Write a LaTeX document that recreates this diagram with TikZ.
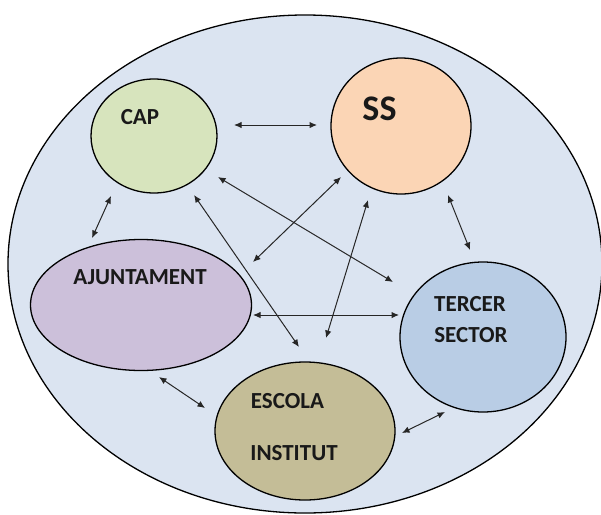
\documentclass[tikz,border=0pt]{standalone}
\usepackage{fontspec}
\setmainfont{Carlito}
\usetikzlibrary{shapes.geometric,arrows.meta}
\definecolor{outerfill}{RGB}{219,228,241}
\definecolor{capfill}{RGB}{215,228,189}
\definecolor{ssfill}{RGB}{251,213,181}
\definecolor{ajfill}{RGB}{204,192,218}
\definecolor{tsfill}{RGB}{185,205,229}
\definecolor{esfill}{RGB}{196,189,151}
\tikzset{
  blob/.style={ellipse, draw=black, line width=1.3pt, inner sep=0pt},
  lbl/.style={font=\fontsize{23}{25}\selectfont\bfseries, text=black!90, inner sep=0pt},
  link/.style={{Latex[length=7.5pt,width=6.5pt]}-{Latex[length=7.5pt,width=6.5pt]}, line width=1pt, draw=black!85}
}
\begin{document}
\begin{tikzpicture}[x=1pt,y=-1pt]
\useasboundingbox (0,0) rectangle (601,514);
\node[ellipse, draw=black, line width=1.3pt, fill=outerfill, minimum width=594pt, minimum height=498pt, inner sep=0pt] (outer) at (305,264) {};
\node[blob, fill=capfill, minimum width=126pt, minimum height=114pt] (cap) at (154,136) {};
\node[blob, fill=ssfill, minimum width=140pt, minimum height=136pt] (ss) at (401,126) {};
\node[blob, fill=ajfill, minimum width=221pt, minimum height=131pt] (aj) at (141,305) {};
\node[blob, fill=tsfill, minimum width=166pt, minimum height=150pt] (ts) at (483,337) {};
\node[blob, fill=esfill, minimum width=180pt, minimum height=138pt] (es) at (305,431) {};

\node[lbl] (tcap) at (140,117.5) {CAP};
\node[lbl, font=\fontsize{36}{38}\selectfont\bfseries] (tss) at (379.5,108.5) {SS};
\node[lbl] (taj) at (140,277) {AJUNTAMENT};
\node[lbl] (tts1) at (470,304) {TERCER};
\node[lbl] (tts2) at (471,335.5) {SECTOR};
\node[lbl] (tes1) at (287.5,401) {ESCOLA};
\node[lbl] (tes2) at (294,453) {INSTITUT};

\coordinate (a1) at (234,125); \coordinate (b1) at (317,125);
\coordinate (a2) at (111,196); \coordinate (b2) at (92,238);
\coordinate (a3) at (218,177); \coordinate (b3) at (393,282);
\coordinate (a4) at (194,195); \coordinate (b4) at (299,347);
\coordinate (a5) at (341,177); \coordinate (b5) at (253,262);
\coordinate (a6) at (368,200); \coordinate (b6) at (326,338);
\coordinate (a7) at (448,195); \coordinate (b7) at (470,250);
\coordinate (a8) at (253,315); \coordinate (b8) at (399,315);
\coordinate (a9) at (159,377); \coordinate (b9) at (205,408);
\coordinate (a10) at (402,433); \coordinate (b10) at (445,412);
\foreach \i in {1,...,10} { \draw[link] (a\i) -- (b\i); }
\end{tikzpicture}
\end{document}
